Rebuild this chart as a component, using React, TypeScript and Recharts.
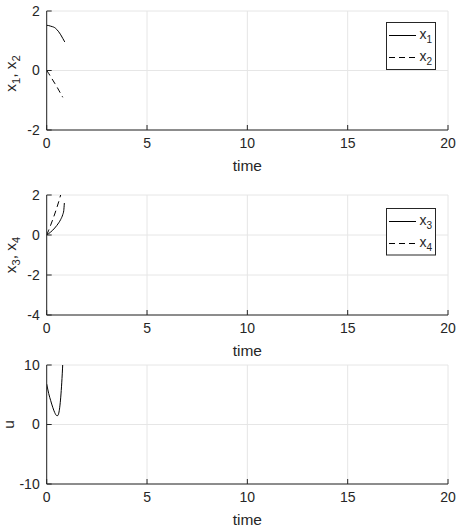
import React from 'react';
import { LineChart, Line, XAxis, YAxis, CartesianGrid, Legend } from 'recharts';

// ---------- data ----------
const timeTicks = [0, 5, 10, 15, 20];
const ticks12 = [-2, 0, 2];
const ticks34 = [-4, -2, 0, 2];
const ticksU = [-10, 0, 10];

const tX1 = [0, 0.1, 0.2, 0.3, 0.4, 0.5, 0.6, 0.7, 0.8, 0.9];
const vX1 = [1.52, 1.51, 1.49, 1.47, 1.44, 1.38, 1.3, 1.2, 1.08, 0.96];

const tX2 = [0, 0.1, 0.2, 0.3, 0.4, 0.5, 0.6, 0.7, 0.8];
const vX2 = [0, -0.1, -0.21, -0.32, -0.43, -0.54, -0.66, -0.78, -0.9];

const tX3 = [0, 0.1, 0.2, 0.3, 0.4, 0.5, 0.6, 0.7, 0.8, 0.85, 0.88];
const vX3 = [0, 0.07, 0.15, 0.24, 0.35, 0.47, 0.61, 0.78, 1.02, 1.22, 1.6];

const tX4 = [0, 0.1, 0.2, 0.3, 0.4, 0.5, 0.6, 0.7, 0.8, 0.9];
const vX4 = [0, 0.24, 0.5, 0.77, 1.05, 1.35, 1.67, 2.02, 2.4, 2.9];

const tU = [0, 0.1, 0.2, 0.3, 0.4, 0.5, 0.55, 0.6, 0.65, 0.7, 0.75, 0.8, 0.85];
const vU = [6.8, 5.2, 4.0, 2.9, 2.0, 1.5, 1.5, 1.9, 2.9, 4.6, 7.0, 10.2, 14];

const toData = (t: number[], v: number[]) => t.map((tt, i) => ({ t: tt, v: v[i] }));

// ---------- style ----------
const FONT = '"Liberation Sans", Arial, Helvetica, sans-serif';
const AXIS = '#262626';
const GRID = '#e6e6e6';
const W = 461;

type Part = { text: string; sub?: boolean };

function Rich({ parts, x, y, size, anchor, transform }: any) {
  const out: any[] = [];
  let shifted = false;
  parts.forEach((p: Part, i: number) => {
    let dy = 0;
    if (p.sub && !shifted) { dy = size * 0.3; shifted = true; }
    else if (!p.sub && shifted) { dy = -size * 0.3; shifted = false; }
    out.push(
      <tspan key={i} dy={dy} fontSize={p.sub ? size * 0.72 : size}>{p.text}</tspan>
    );
  });
  return (
    <text x={x} y={y} fill={AXIS} fontFamily={FONT} fontSize={size} textAnchor={anchor} transform={transform}>
      {out}
    </text>
  );
}

function XTitle(props: any) {
  const vb = props.viewBox || { x: 46.7, y: 0, width: 401.3, height: 0 };
  const cx = vb.x + vb.width / 2;
  const y = vb.y + 41;
  return (
    <text x={cx} y={y} fill={AXIS} fontFamily={FONT} fontSize={15.5} textAnchor="middle">time</text>
  );
}

function YTitle(props: any) {
  const vb = props.viewBox || { x: 0, y: 0, width: 46.7, height: 119 };
  const cy = vb.y + vb.height / 2 + (props.shift || 0);
  const bx = props.bx;
  return (
    <Rich parts={props.parts} x={bx} y={cy} size={15.5} anchor="middle" transform={`rotate(-90, ${bx}, ${cy})`} />
  );
}

function LegendBox({ items, height }: any) {
  return (
    <svg width={50} height={height} style={{ display: 'block', overflow: 'visible' }}>
      <rect x={0.5} y={0.5} width={49} height={height - 1} fill="#ffffff" stroke={AXIS} strokeWidth={1} />
      {items.map((it: any, i: number) => {
        const ly = i === 0 ? 13.5 : 35.5;
        return (
          <g key={i}>
            <line x1={3} x2={30} y1={ly} y2={ly} stroke="#000" strokeWidth={1} strokeDasharray={it.dash} />
            <Rich parts={it.parts} x={33.5} y={ly + 3.5} size={14} anchor="start" />
          </g>
        );
      })}
    </svg>
  );
}

type Series = { name: string; data: any[]; dash?: string; parts: Part[] };

function Panel({ top, height, plotTop, plotH, yDomain, yTicks, yParts, yBx, yShift, series, legend }: any) {
  const xAxisH = height - plotTop - plotH;
  return (
    <div style={{ position: 'absolute', left: 0, top, width: W, height }}>
      <LineChart width={W} height={height} margin={{ top: plotTop, right: 13, bottom: 0, left: 0 }}>
        <CartesianGrid stroke={GRID} strokeWidth={1} />
        <XAxis
          dataKey="t"
          type="number"
          domain={[0, 20]}
          ticks={timeTicks}
          allowDataOverflow
          height={xAxisH}
          stroke={AXIS}
          tickSize={-5}
          tickMargin={13}
          tick={{ fill: AXIS, fontSize: 14, fontFamily: FONT }}
          label={<XTitle />}
        />
        <XAxis
          xAxisId="top"
          orientation="top"
          dataKey="t"
          type="number"
          domain={[0, 20]}
          ticks={timeTicks}
          allowDataOverflow
          height={0}
          stroke={AXIS}
          tickSize={-5}
          tick={false}
        />
        <YAxis
          type="number"
          domain={yDomain}
          ticks={yTicks}
          allowDataOverflow
          width={46.7}
          stroke={AXIS}
          tickSize={-5}
          tickMargin={12}
          tick={{ fill: AXIS, fontSize: 14, fontFamily: FONT }}
          label={<YTitle parts={yParts} bx={yBx} shift={yShift} />}
        />
        <YAxis
          yAxisId="right"
          orientation="right"
          type="number"
          domain={yDomain}
          ticks={yTicks}
          allowDataOverflow
          width={0}
          stroke={AXIS}
          tickSize={-5}
          tick={false}
        />
        {series.map((s: Series) => (
          <Line
            key={s.name}
            name={s.name}
            data={s.data}
            dataKey="v"
            type="monotone"
            stroke="#000000"
            strokeWidth={1}
            strokeDasharray={s.dash}
            dot={false}
            activeDot={false}
            isAnimationActive={false}
          />
        ))}
        {legend ? (
          <Legend
            layout="vertical"
            align="center"
            verticalAlign="middle"
            wrapperStyle={{ position: 'absolute', left: legend.left, top: legend.top, width: 50, height: legend.h, margin: 0, padding: 0 }}
            content={() => <LegendBox items={series.map((s: Series) => ({ dash: s.dash, parts: s.parts }))} height={legend.h} />}
          />
        ) : null}
      </LineChart>
    </div>
  );
}

const series1: Series[] = [
  { name: 'x1', data: toData(tX1, vX1), parts: [{ text: 'x' }, { text: '1', sub: true }] },
  { name: 'x2', data: toData(tX2, vX2), dash: '6 4', parts: [{ text: 'x' }, { text: '2', sub: true }] },
];
const series2: Series[] = [
  { name: 'x3', data: toData(tX3, vX3), parts: [{ text: 'x' }, { text: '3', sub: true }] },
  { name: 'x4', data: toData(tX4, vX4), dash: '6 4', parts: [{ text: 'x' }, { text: '4', sub: true }] },
];
const series3: Series[] = [
  { name: 'u', data: toData(tU, vU), parts: [{ text: 'u' }] },
];

export default function App() {
  return (
    <div style={{ position: 'absolute', left: 0, top: 0, width: W, height: 531, background: '#ffffff' }}>
      <Panel
        top={0}
        height={178}
        plotTop={11}
        plotH={119}
        yDomain={[-2, 2]}
        yTicks={ticks12}
        yParts={[{ text: 'x' }, { text: '1', sub: true }, { text: ', x' }, { text: '2', sub: true }]}
        yBx={15.5}
        yShift={3}
        series={series1}
        legend={{ left: 386, top: 22, h: 48 }}
      />
      <Panel
        top={178}
        height={183}
        plotTop={17}
        plotH={120}
        yDomain={[-4, 2]}
        yTicks={ticks34}
        yParts={[{ text: 'x' }, { text: '3', sub: true }, { text: ', x' }, { text: '4', sub: true }]}
        yBx={15.5}
        yShift={0}
        series={series2}
        legend={{ left: 386, top: 29.7, h: 47.5 }}
      />
      <Panel
        top={356}
        height={175}
        plotTop={9}
        plotH={119}
        yDomain={[-10, 10]}
        yTicks={ticksU}
        yParts={[{ text: 'u' }]}
        yBx={13.5}
        yShift={0}
        series={series3}
      />
    </div>
  );
}
